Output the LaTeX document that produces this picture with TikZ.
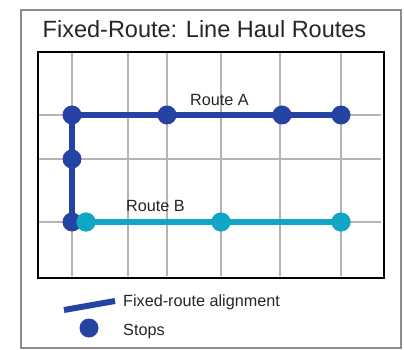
\documentclass[tikz,border=0pt]{standalone}
\usepackage{fontspec}
\setmainfont{Liberation Sans}
\definecolor{routeblue}{HTML}{2443A3}
\definecolor{routecyan}{HTML}{12A6C6}
\definecolor{gridgray}{HTML}{B4B4B4}
\definecolor{framegray}{HTML}{8C8C8C}
\pgfdeclarelayer{base}
\pgfdeclarelayer{routes}
\pgfsetlayers{base,routes,main}
\tikzset{
  gridline/.style={draw=gridgray, line width=1.3pt},
  routeAline/.style={draw=routeblue, line width=6pt},
  routeBline/.style={draw=routecyan, line width=6.5pt},
  stopA/.style={circle, fill=routeblue, inner sep=0pt, minimum size=19pt},
  stopB/.style={circle, fill=routecyan, inner sep=0pt, minimum size=19pt},
  lbl/.style={font=\fontsize{16.2}{19}\selectfont, text=black!85, inner sep=0pt},
}
\begin{document}
\begin{tikzpicture}[x=1pt,y=-1pt]
\useasboundingbox (0,0) rectangle (404,350);
\begin{pgfonlayer}{base}
\fill[white] (0,0) rectangle (404,350);
% outer frame
\draw[framegray, line width=1.3pt] (21,10) rectangle (401,348);
% grid
\foreach \x in {72,128,167,221,280,341} \draw[gridline] (\x,52) -- (\x,276);
\foreach \y in {115,159,222} \draw[gridline] (38,\y) -- (381,\y);
% inner frame
\draw[black, line width=2pt] (38,52) rectangle (384,278);
\end{pgfonlayer}
% title
\node[font=\fontsize{23.5}{27}\selectfont, text=black!85, inner sep=0pt] (title) at (204.5,29) {Fixed-Route: Line Haul Routes};
% stops
\node[stopA] (a1) at (72,115) {};
\node[stopA] (a2) at (167,115) {};
\node[stopA] (a3) at (282,115) {};
\node[stopA] (a4) at (341,115) {};
\node[stopA] (a5) at (72,159) {};
\node[stopA] (a6) at (72,222) {};
\node[stopB] (b1) at (86,222) {};
\node[stopB] (b2) at (221,222) {};
\node[stopB] (b3) at (341,222) {};
\begin{pgfonlayer}{routes}
\draw[routeAline] (a4.center) -- (a1.center) -- (a6.center);
\end{pgfonlayer}
\draw[routeBline] (b1.center) -- (b3.center);
\node[stopB] at (b1) {};
\node[stopB] at (b2) {};
\node[stopB] at (b3) {};
% route labels
\node[lbl] (la) at (219.5,100.5) {Route A};
\node[lbl] (lb) at (155.5,206.5) {Route B};
% legend
\coordinate (l1) at (64,310);
\coordinate (l2) at (115,301);
\draw[draw=routeblue, line width=6pt] (l1) -- (l2);
\node[lbl, anchor=west] (lt1) at (123,302.5) {Fixed-route alignment};
\node[stopA] (ld) at (89,328) {};
\node[lbl, anchor=west] (lt2) at (123,331.5) {Stops};
\end{tikzpicture}
\end{document}
